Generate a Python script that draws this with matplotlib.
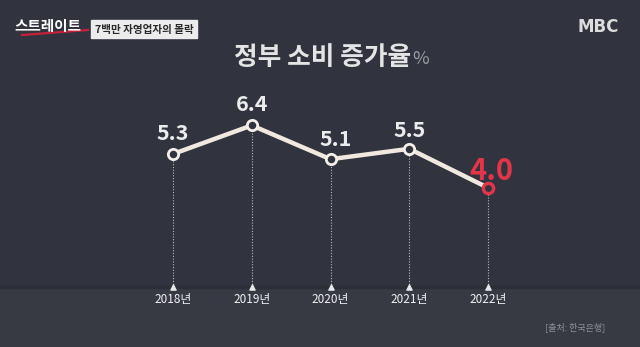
import matplotlib
matplotlib.use("Agg")
import matplotlib.pyplot as plt
from matplotlib.patches import Rectangle

plt.rcParams['font.family'] = ['Noto Sans CJK KR', 'DejaVu Sans']

years = ["2018년", "2019년", "2020년", "2021년", "2022년"]
values = [5.3, 6.4, 5.1, 5.5, 4.0]
value_labels = ["5.3", "6.4", "5.1", "5.5", "4.0"]
title = "정부 소비 증가율"
unit = "%"
source = "[출처: 한국은행]"
program = "스트레이트"
headline = "7백만 자영업자의 몰락"

W, H = 640, 347
fig = plt.figure(figsize=(W / 100, H / 100), dpi=100)
fig.patch.set_facecolor("#31343e")

# figure-level decorations in pixel coordinates
deco = fig.add_axes([0, 0, 1, 1])
deco.set_xlim(0, W)
deco.set_ylim(H, 0)
deco.axis("off")
deco.add_patch(Rectangle((0, 287), W, H - 287, color="#373a43", zorder=0))
deco.add_patch(Rectangle((0, 285.5), W, 2, color="#2b2e36", zorder=0))
deco.add_patch(Rectangle((91, 20), 106, 18, color="#ececec", zorder=1))
deco.text(144, 29.5, headline, ha="center", va="center", fontsize=7.6,
          color="#2a2a2a", fontweight="bold", zorder=2)
deco.text(48, 26, program, ha="center", va="center", fontsize=10.5,
          color="white", fontweight="heavy", zorder=2)
deco.plot([22, 88], [35, 30], color="#c4213a", lw=1.6, zorder=1)
deco.text(598, 27, "MBC", ha="center", va="center", fontsize=12,
          color="#dcdcdc", fontweight="bold", family="DejaVu Sans")
deco.text(323, 57, title, ha="center", va="center", fontsize=18.5,
          color="#e4e4e4", fontweight="heavy")
deco.text(421, 59, unit, ha="center", va="center", fontsize=13,
          color="#9a9ca3")
deco.text(575, 327, source, ha="center", va="center", fontsize=6.5,
          color="#8e9098")

# chart axes spanning the figure, with scales mapping data to positions
ax = fig.add_axes([0, 0, 1, 1], facecolor="none")
x0, dx = 173, 78.75
y0, dy = 154, 26.0
ax.set_xlim(-x0 / dx, (W - x0) / dx)
ax.set_ylim(5.3 - (H - y0) / dy, 5.3 + y0 / dy)
ax.axis("off")

xs = list(range(len(values)))
base = 5.3 - (287 - y0) / dy

for i, v in zip(xs, values):
    ax.plot([i, i], [base, v], color="#b8b9bd", lw=0.8, ls=(0, (1, 1.5)), zorder=1)
ax.scatter(xs, [base] * len(xs), marker="^", s=14, color="#e8e8e8", zorder=2)

ax.plot(xs, values, color="#f1e9df", lw=3.2, zorder=3, solid_capstyle="round")
ax.scatter(xs[:-1], values[:-1], s=55, facecolor="#31343e", edgecolor="#f4efe8",
           linewidth=2, zorder=4)
ax.scatter(xs[-1:], values[-1:], s=55, facecolor="#31343e", edgecolor="#e2354a",
           linewidth=2.4, zorder=4)

offsets = [0.8, 0.8, 0.75, 0.7, 0.64]
xoffs = [0, 0, 0.06, 0, 0.04]
for i, (v, lab) in enumerate(zip(values, value_labels)):
    last = i == len(values) - 1
    ax.text(i + xoffs[i], v + offsets[i], lab, ha="center", va="center",
            fontsize=21 if last else 15.5, fontweight="bold",
            color="#e2354a" if last else "#ececec", zorder=5)

for i, yl in zip(xs, years):
    ax.text(i, 5.3 - (300 - y0) / dy, yl, ha="center", va="center",
            fontsize=8.5, color="#f0f0f0", fontweight="medium", zorder=5)

fig.savefig("out.png", dpi=100, facecolor=fig.get_facecolor())
